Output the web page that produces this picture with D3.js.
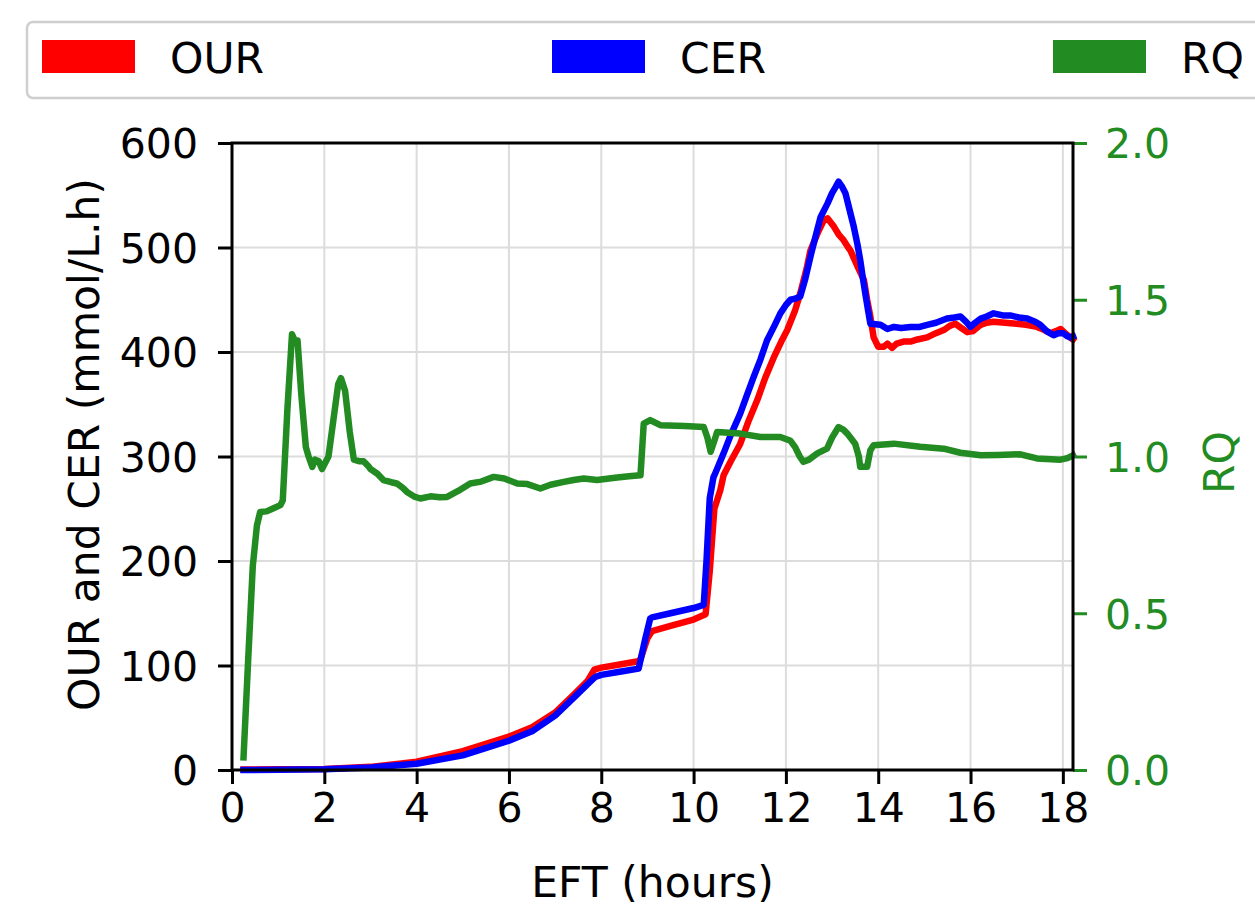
<!DOCTYPE html>
<html><head><meta charset="utf-8">
<script src="https://cdn.jsdelivr.net/npm/d3@7"></script>
<style>body{margin:0;background:#fff}svg{display:block}text{font-family:"DejaVu Sans",sans-serif}</style>
</head><body>
<svg id="c" width="1255" height="910"></svg>
<script>
const xTicks=[0,2,4,6,8,10,12,14,16,18];
const leftTicks=[0,100,200,300,400,500,600];
const rightTicks=[0.0,0.5,1.0,1.5,2.0];
const seriesNames=["OUR","CER","RQ"];
const timeOUR=[0.25,1,2,3,4,5,6,6.5,7,7.4,7.7,7.85,8.0,8.4,8.8,8.85,9.0,9.1,9.5,10.0,10.26,10.35,10.45,10.58,10.65,10.8,11.01,11.2,11.38,11.55,11.74,11.9,12.03,12.2,12.31,12.45,12.53,12.7,12.82,12.9,13.04,13.15,13.25,13.35,13.4,13.47,13.55,13.69,13.76,13.83,13.9,14.0,14.12,14.2,14.3,14.4,14.55,14.7,14.85,15.06,15.25,15.42,15.55,15.67,15.8,15.93,16.05,16.22,16.35,16.5,16.75,17.0,17.2,17.44,17.6,17.73,17.85,17.95,18.05,18.16,18.22];
const OUR=[0.5,0.6,1,3,8,18,32,41,55,72,85,96,98,101,104,106,126,133,138,144,149,190,250,268,282,295,312,335,354,375,395,410,421,440,456,480,497,515,526,528,520,512,507,500,497,490,482,469,450,434,414,405,405,408,404,408,410,410,412,414,418,421,425,427,423,419,420,426,428,429,428,427,426,424,421,418,420,422,418,414,412];
const timeCER=[0.25,1,2,3,4,5,6,6.5,7,7.4,7.7,7.87,8.0,8.4,8.81,8.95,9.06,9.1,9.5,10.0,10.22,10.28,10.35,10.43,10.47,10.65,10.8,11.01,11.15,11.3,11.45,11.59,11.75,11.88,12.0,12.1,12.2,12.31,12.42,12.53,12.65,12.75,12.9,13.0,13.08,13.14,13.22,13.29,13.38,13.47,13.55,13.61,13.67,13.72,13.78,13.83,14.05,14.2,14.34,14.5,14.7,14.9,15.06,15.25,15.49,15.65,15.78,15.9,16.0,16.1,16.22,16.35,16.5,16.7,16.86,17.05,17.23,17.4,17.51,17.65,17.8,17.9,18.01,18.1,18.16,18.22];
const CER=[0,0.3,0.8,2.5,6,14,28,37,52,69,82,89,91,94,97,125,145,146,150,155,158,200,260,280,284,303,320,341,358,376,393,411,425,437,445,450,451,453,470,491,512,529,542,552,558,563,558,552,536,520,503,488,470,456,440,427,426,422,424,423,424,424,426,428,432,433,434,429,424,428,432,434,437,435,435,433,432,429,426,420,416,418,418,415,414,415];
const timeRQ=[0.25,0.35,0.45,0.54,0.61,0.75,0.9,1.05,1.1,1.2,1.3,1.36,1.42,1.5,1.6,1.66,1.74,1.8,1.88,1.95,2.09,2.2,2.3,2.36,2.45,2.55,2.64,2.75,2.85,2.95,3.0,3.15,3.28,3.45,3.57,3.7,3.79,3.95,4.08,4.3,4.5,4.66,4.9,5.16,5.4,5.67,5.9,6.18,6.4,6.68,6.9,7.19,7.4,7.62,7.91,8.3,8.6,8.85,8.92,9.06,9.28,9.8,10.22,10.3,10.37,10.45,10.51,11.01,11.45,11.88,12.1,12.2,12.3,12.38,12.5,12.68,12.89,13.0,13.14,13.25,13.33,13.5,13.58,13.61,13.76,13.83,13.9,14.34,14.91,15.42,15.78,16.22,16.6,17.08,17.44,17.95,18.1,18.22];
const RQ=[0.04,0.35,0.65,0.78,0.823,0.825,0.835,0.845,0.86,1.15,1.39,1.37,1.37,1.2,1.03,1.0,0.967,0.99,0.985,0.96,1.0,1.12,1.23,1.25,1.21,1.08,0.99,0.985,0.985,0.97,0.96,0.945,0.925,0.918,0.914,0.9,0.887,0.872,0.866,0.873,0.87,0.871,0.89,0.914,0.92,0.935,0.93,0.914,0.912,0.898,0.91,0.919,0.925,0.93,0.925,0.932,0.937,0.94,1.105,1.116,1.1,1.097,1.094,1.06,1.015,1.05,1.078,1.073,1.062,1.062,1.05,1.03,1.0,0.983,0.99,1.01,1.025,1.06,1.094,1.085,1.073,1.041,1.0,0.967,0.967,1.02,1.036,1.041,1.031,1.025,1.012,1.004,1.005,1.007,0.994,0.99,0.995,1.004];

const colors={OUR:"#ff0000",CER:"#0000ff",RQ:"#228b22"};
const svg=d3.select("#c");
const L=232,R=1073,T=143,B=770;
const x=d3.scaleLinear().domain([0,18.22]).range([L,R]);
const yL=d3.scaleLinear().domain([0,600]).range([B,T]);
const yR=d3.scaleLinear().domain([0,2]).range([B,T]);
const FS=41, LFS=42.5, LW=6.5;

// grid
const g=svg.append("g");
g.selectAll("line.vx").data(xTicks).join("line").attr("x1",d=>x(d)).attr("x2",d=>x(d)).attr("y1",T).attr("y2",B).attr("stroke","#dcdcdc").attr("stroke-width",2);
g.selectAll("line.hy").data(leftTicks).join("line").attr("x1",L).attr("x2",R).attr("y1",d=>yL(d)).attr("y2",d=>yL(d)).attr("stroke","#dcdcdc").attr("stroke-width",2);

// lines
const mk=(ts,vs,sc)=>d3.line().x((d,i)=>x(ts[i])).y(d=>sc(d));
svg.append("path").attr("d",mk(timeOUR,OUR,yL)(OUR)).attr("fill","none").attr("stroke",colors.OUR).attr("stroke-width",LW).attr("stroke-linejoin","round").attr("stroke-linecap","square");
svg.append("path").attr("d",mk(timeCER,CER,yL)(CER)).attr("fill","none").attr("stroke",colors.CER).attr("stroke-width",LW).attr("stroke-linejoin","round").attr("stroke-linecap","square");
svg.append("path").attr("d",mk(timeRQ,RQ,yR)(RQ)).attr("fill","none").attr("stroke",colors.RQ).attr("stroke-width",LW).attr("stroke-linejoin","round").attr("stroke-linecap","square");

// axes
const ax=svg.append("g").attr("transform",`translate(0,${B})`).call(d3.axisBottom(x).tickValues(xTicks).tickSize(14).tickPadding(8).tickFormat(d3.format("d")));
const ay=svg.append("g").attr("transform",`translate(${L},0)`).call(d3.axisLeft(yL).tickValues(leftTicks).tickSize(14).tickPadding(20).tickFormat(d3.format("d")));
const ar=svg.append("g").attr("transform",`translate(${R},0)`).call(d3.axisRight(yR).tickValues(rightTicks).tickSize(14).tickPadding(18).tickFormat(d3.format(".1f")));
[ax,ay,ar].forEach(a=>{a.select(".domain").remove();a.selectAll("text").attr("font-size",FS).attr("font-family","DejaVu Sans");a.selectAll("line").attr("stroke-width",3);});
ax.selectAll("text").attr("dy","0.72em").attr("fill","#000");
ay.selectAll("text").attr("dy","0.36em").attr("fill","#000");
ar.selectAll("text").attr("dy","0.36em").attr("fill",colors.RQ);
ar.selectAll("line").attr("stroke",colors.RQ);
ax.selectAll("line").attr("stroke","#000");ay.selectAll("line").attr("stroke","#000");

// frame
svg.append("rect").attr("x",L).attr("y",T).attr("width",R-L).attr("height",B-T).attr("fill","none").attr("stroke","#000").attr("stroke-width",3);

// labels
svg.append("text").attr("x",(L+R)/2).attr("y",897).attr("text-anchor","middle").attr("font-size",LFS).text("EFT (hours)");
svg.append("text").attr("transform",`translate(99,${(T+B)/2-12}) rotate(-90)`).attr("text-anchor","middle").attr("font-size",LFS).text("OUR and CER (mmol/L.h)");
svg.append("text").attr("transform",`translate(1234,${(T+B)/2+6}) rotate(-90)`).attr("text-anchor","middle").attr("font-size",LFS).attr("fill",colors.RQ).text("RQ");

// legend
svg.append("rect").attr("x",27).attr("y",22).attr("width",1250).attr("height",76).attr("rx",6).attr("fill","#fff").attr("stroke","#cfcfcf").attr("stroke-width",2.5);
const lx=[42,552,1053];
const lg=svg.selectAll("g.leg").data(seriesNames).join("g").attr("transform",(d,i)=>`translate(${lx[i]},0)`);
lg.append("rect").attr("x",0).attr("y",40).attr("width",93).attr("height",33).attr("fill",d=>colors[d]);
lg.append("text").attr("x",128).attr("y",73).attr("font-size",LFS).text(d=>d);
</script>
</body></html>
